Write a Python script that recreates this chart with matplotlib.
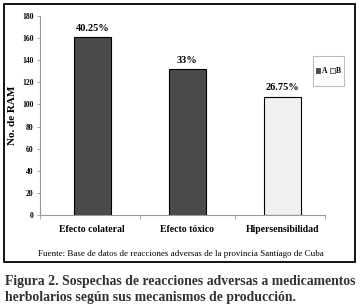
import matplotlib
matplotlib.use('Agg')
import matplotlib.pyplot as plt
from matplotlib.patches import Rectangle, Patch

categories = ['Efecto colateral', 'Efecto tóxico', 'Hipersensibilidad']
values = [161, 132, 107]
pct_labels = ['40.25%', '33%', '26.75%']
series = ['A', 'A', 'B']
series_colors = {'A': '#4a4a4a', 'B': '#f0f0f0'}
yticks = [0, 20, 40, 60, 80, 100, 120, 140, 160, 180]

plt.rcParams['font.family'] = ['Liberation Serif', 'DejaVu Serif']

fig = plt.figure(figsize=(3.63, 3.06), dpi=100)
W, H = 363.0, 306.0
ax = fig.add_axes([40 / W, 1 - 215 / H, (325 - 40) / W, (215 - 16) / H])

x = list(range(len(categories)))
ax.bar(x, values, width=0.39, color=[series_colors[s] for s in series],
       edgecolor='black', linewidth=0.8, zorder=2)
for xi, v, lab in zip(x, values, pct_labels):
    ax.text(xi, v + 4, lab, ha='center', va='bottom', fontsize=7.5, fontweight='bold')

ax.set_xlim(-0.55, 2.45)
ax.set_ylim(0, 180)
ax.set_yticks(yticks)
ax.set_yticklabels([str(t) for t in yticks], fontsize=5.5, fontweight='bold')
ax.set_xticks(x)
ax.set_xticklabels(categories, fontsize=7, fontweight='bold')
ax.set_xticks([-0.55, 0.5, 1.5, 2.45], minor=True)
ax.tick_params(axis='x', which='major', length=0, pad=7)
ax.tick_params(axis='x', which='minor', length=3, width=0.6, color='#999999')
ax.tick_params(axis='y', length=2.5, width=0.6, color='#999999', pad=2)
for s in ['top', 'right']:
    ax.spines[s].set_visible(False)
for s in ['left', 'bottom']:
    ax.spines[s].set_color('#999999')
    ax.spines[s].set_linewidth(0.8)
ax.set_ylabel('No. de RAM', fontsize=8, fontweight='bold', labelpad=4)

handles = [Patch(facecolor=series_colors[k], edgecolor='#333333', linewidth=0.5, label=k)
           for k in ['A', 'B']]
fig.legend(handles=handles, loc='center', bbox_to_anchor=(328.5 / W, 1 - 71 / H),
           ncol=2, handlelength=0.6, handleheight=0.6,
           handletextpad=0.2, columnspacing=0.4, frameon=False,
           prop={'weight': 'bold', 'size': 5.5})
fig.add_artist(Rectangle((313 / W, 1 - 86 / H), 31 / W, 30 / H,
                         transform=fig.transFigure, fill=False,
                         edgecolor='#bbbbbb', linewidth=0.8))

# outer frame
fig.add_artist(Rectangle((4 / W, 1 - 262 / H), (355 - 4) / W, (262 - 4) / H,
                         transform=fig.transFigure, fill=False,
                         edgecolor='black', linewidth=1.3))

fig.text(181 / W, 1 - 254 / H,
         'Fuente: Base de datos de reacciones adversas de la provincia Santiago de Cuba',
         ha='center', va='center', fontsize=6.5)
fig.text(5 / W, 1 - 281 / H,
         'Figura 2. Sospechas de reacciones adversas a medicamentos',
         ha='left', va='center', fontsize=9.9, fontweight='bold', color='#333333')
fig.text(5 / W, 1 - 297 / H,
         'herbolarios según sus mecanismos de producción.',
         ha='left', va='center', fontsize=9.9, fontweight='bold', color='#333333')

fig.savefig('out.png', dpi=100)
